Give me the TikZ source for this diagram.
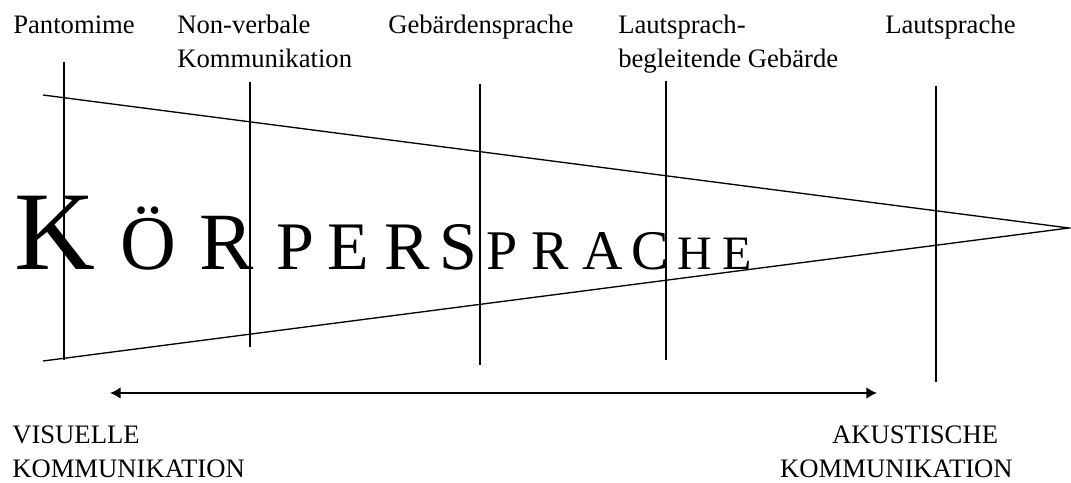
\documentclass[tikz,border=0pt]{standalone}
\usepackage{fontspec}
\setmainfont{Liberation Serif}
\usetikzlibrary{arrows.meta}

\begin{document}
\begin{tikzpicture}[x=0.75pt,y=-0.75pt,
    lbl/.style={font=\fontsize{20}{25}\selectfont,inner sep=0pt,anchor=base west,align=left},
    divider/.style={line width=0.9pt},
    wedge/.style={line width=1pt}]
  \useasboundingbox (0,0) rectangle (1071,482);
  % wedge
  \coordinate (wtop) at (43,95);
  \coordinate (wtip) at (1069,228);
  \coordinate (wbot) at (43,361);
  \draw[wedge] (wtop) -- (wtip) -- (wbot);
  % dividers
  \draw[divider] foreach \x/\a/\b in {64/62/360,250/82/347,480/84/365,666/81/360,936/86/382}{(\x,\a) -- (\x,\b)};
  % top labels (two-line ones sit on their last line)
  \node[lbl] (panto) at (13,33) {Pantomime};
  \node[lbl] (nonverb) at (177,67) {Non-verbale\\Kommunikation};
  \node[lbl] (gebaerd) at (388,33) {Gebärdensprache};
  \node[lbl] (lbg) at (618,67) {Lautsprach-\\begleitende Gebärde};
  \node[lbl] (laut) at (885,33) {Lautsprache};
  % the word
  \foreach \c/\x/\s [count=\i] in {K/14/84,Ö/120/58,R/199/61,P/276/51,E/327/51,R/384/51,S/439/51,P/486/42,R/531/42,A/582/42,C/631/42,H/677/36,E/722/36}
    \node[inner sep=0pt,anchor=base west,font=\fontsize{\s}{\s}\selectfont] (w\i) at (\x,269) {\c};
  % arrow
  \coordinate (visend) at (110,393);
  \coordinate (akuend) at (877,393);
  \draw[{Latex[length=8pt,width=9pt]}-{Latex[length=8pt,width=9pt]},line width=2.2pt] (visend) -- (akuend);
  \node[lbl] (visu) at (12,477) {VISUELLE\\KOMMUNIKATION};
  \node[lbl,anchor=base east,align=right] (akus) at (1013,477) {AKUSTISCHE\hspace*{11pt}\\KOMMUNIKATION};
\end{tikzpicture}
\end{document}
